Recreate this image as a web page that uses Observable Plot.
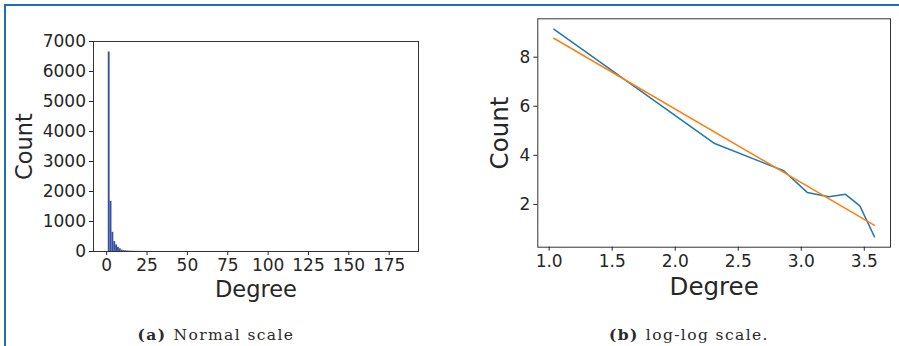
<!DOCTYPE html>
<html>
<head>
<meta charset="utf-8">
<script src="https://cdn.jsdelivr.net/npm/d3@7"></script>
<script src="https://cdn.jsdelivr.net/npm/@observablehq/plot@0.6"></script>
<style>
  html, body { margin: 0; padding: 0; background: #fff; }
  #page { position: relative; width: 899px; height: 346px; overflow: hidden; background: #fff; }
  .panel { position: absolute; top: 0; }
  .panel g[aria-label$="tick label"] text { font-size: 17px; }
  .rule-top { position: absolute; top: 4px; left: 4px; right: 0; height: 1.5px; background: #1f6fb3; z-index: 5; }
  .rule-left { position: absolute; top: 4px; left: 4px; bottom: 0; width: 1.5px; background: #1f6fb3; z-index: 5; }
  .caption { position: absolute; top: 325px; transform: translateX(-50%); white-space: nowrap;
             font-family: "DejaVu Serif", "Liberation Serif", serif; font-size: 15.5px; letter-spacing: 1.4px; color: #2a2a2a; }
  .caption b { margin-right: 7px; }
</style>
</head>
<body>
<div id="page">
  <div class="rule-top"></div>
  <div class="rule-left"></div>
  <div id="left" class="panel" style="left:0px"></div>
  <div id="right" class="panel" style="left:450px"></div>
  <div class="caption" style="left:216px"><b>(a)</b>Normal scale</div>
  <div class="caption" style="left:689px"><b>(b)</b>log-log scale.</div>
</div>
<script>
// Degree histogram (160 equal bins over degrees 1..184); only the non-empty low bins are listed
const binStart = [1.0, 2.14, 3.29, 4.43, 5.58, 6.72, 7.86, 9.01, 10.15, 11.3, 12.44, 13.58, 14.73, 15.87, 17.02, 18.16, 19.3, 20.45, 21.59, 22.74, 23.88];
const binWidth = 1.144;
const binCount = [6650, 1670, 640, 330, 220, 140, 90, 45, 30, 22, 16, 12, 10, 8, 6, 5, 4, 3, 3, 2, 2];
const degreeTicks = [0, 25, 50, 75, 100, 125, 150, 175];
const countTicks = [0, 1000, 2000, 3000, 4000, 5000, 6000, 7000];

// Log-log degree distribution and its straight-line fit
const logDegree = [1.037, 2.313, 2.861, 3.047, 3.219, 3.351, 3.465, 3.581];
const logCount = [9.14, 4.48, 3.37, 2.49, 2.31, 2.41, 1.94, 0.68];
const fitDegree = [1.037, 3.581];
const fitCount = [8.77, 1.15];
const logDegreeTicks = [1.0, 1.5, 2.0, 2.5, 3.0, 3.5];
const logCountTicks = [2, 4, 6, 8];

const hist = binStart.map((s, i) => ({x1: s, x2: s + binWidth, count: binCount[i]}));
const observed = logDegree.map((x, i) => ({x, y: logCount[i]}));
const fitted = fitDegree.map((x, i) => ({x, y: fitCount[i]}));

const baseStyle = {
  fontFamily: "'DejaVu Sans', sans-serif",
  fontSize: "17px",
  color: "#262626",
  background: "transparent",
  overflow: "visible"
};

const left = Plot.plot({
  width: 450, height: 310,
  marginLeft: 93, marginRight: 32, marginTop: 41, marginBottom: 59,
  style: baseStyle,
  x: {domain: [-8.15, 193.15]},
  y: {domain: [0, 7000]},
  marks: [
    Plot.rect(hist, {x1: "x1", x2: "x2", y1: 0, y2: "count", fill: "#3550a0", inset: 0}),
    Plot.frame({stroke: "#333", strokeWidth: 1}),
    Plot.axisX({ticks: degreeTicks, tickFormat: d3.format("d"), tickSize: 4, tickPadding: 3.5, label: null, fontSize: 17}),
    Plot.axisY({ticks: countTicks, tickFormat: d3.format("d"), tickSize: 4, tickPadding: 3.5, label: null, fontSize: 17}),
    Plot.text(["Degree"], {text: d => d, frameAnchor: "bottom", textAnchor: "middle", lineAnchor: "top", dy: 29.7, fontSize: 22.5, fill: "#262626"}),
    Plot.text(["Count"], {text: d => d, frameAnchor: "left", textAnchor: "middle", rotate: -90, lineAnchor: "top", dx: -77, fontSize: 22.5, fill: "#262626"})
  ]
});
document.getElementById("left").appendChild(left);

const right = Plot.plot({
  width: 449, height: 310,
  marginLeft: 87.3, marginRight: 9, marginTop: 18.3, marginBottom: 63.3,
  style: baseStyle,
  x: {domain: [0.910, 3.708]},
  y: {domain: [0.257, 9.563]},
  marks: [
    Plot.line(observed, {x: "x", y: "y", stroke: "#1f77b4", strokeWidth: 1.5}),
    Plot.line(fitted, {x: "x", y: "y", stroke: "#ff7f0e", strokeWidth: 1.5}),
    Plot.frame({stroke: "#333", strokeWidth: 1}),
    Plot.axisX({ticks: logDegreeTicks, tickFormat: d3.format(".1f"), tickSize: 4, tickPadding: 4, label: null, fontSize: 17}),
    Plot.axisY({ticks: logCountTicks, tickFormat: d3.format("d"), tickSize: 4, tickPadding: 3.5, label: null, fontSize: 17}),
    Plot.text(["Degree"], {text: d => d, frameAnchor: "bottom", textAnchor: "middle", lineAnchor: "top", dy: 30, fontSize: 24.5, fill: "#262626"}),
    Plot.text(["Count"], {text: d => d, frameAnchor: "left", textAnchor: "middle", rotate: -90, lineAnchor: "top", dx: -47.3, fontSize: 24.5, fill: "#262626"})
  ]
});
document.getElementById("right").appendChild(right);
</script>
</body>
</html>
